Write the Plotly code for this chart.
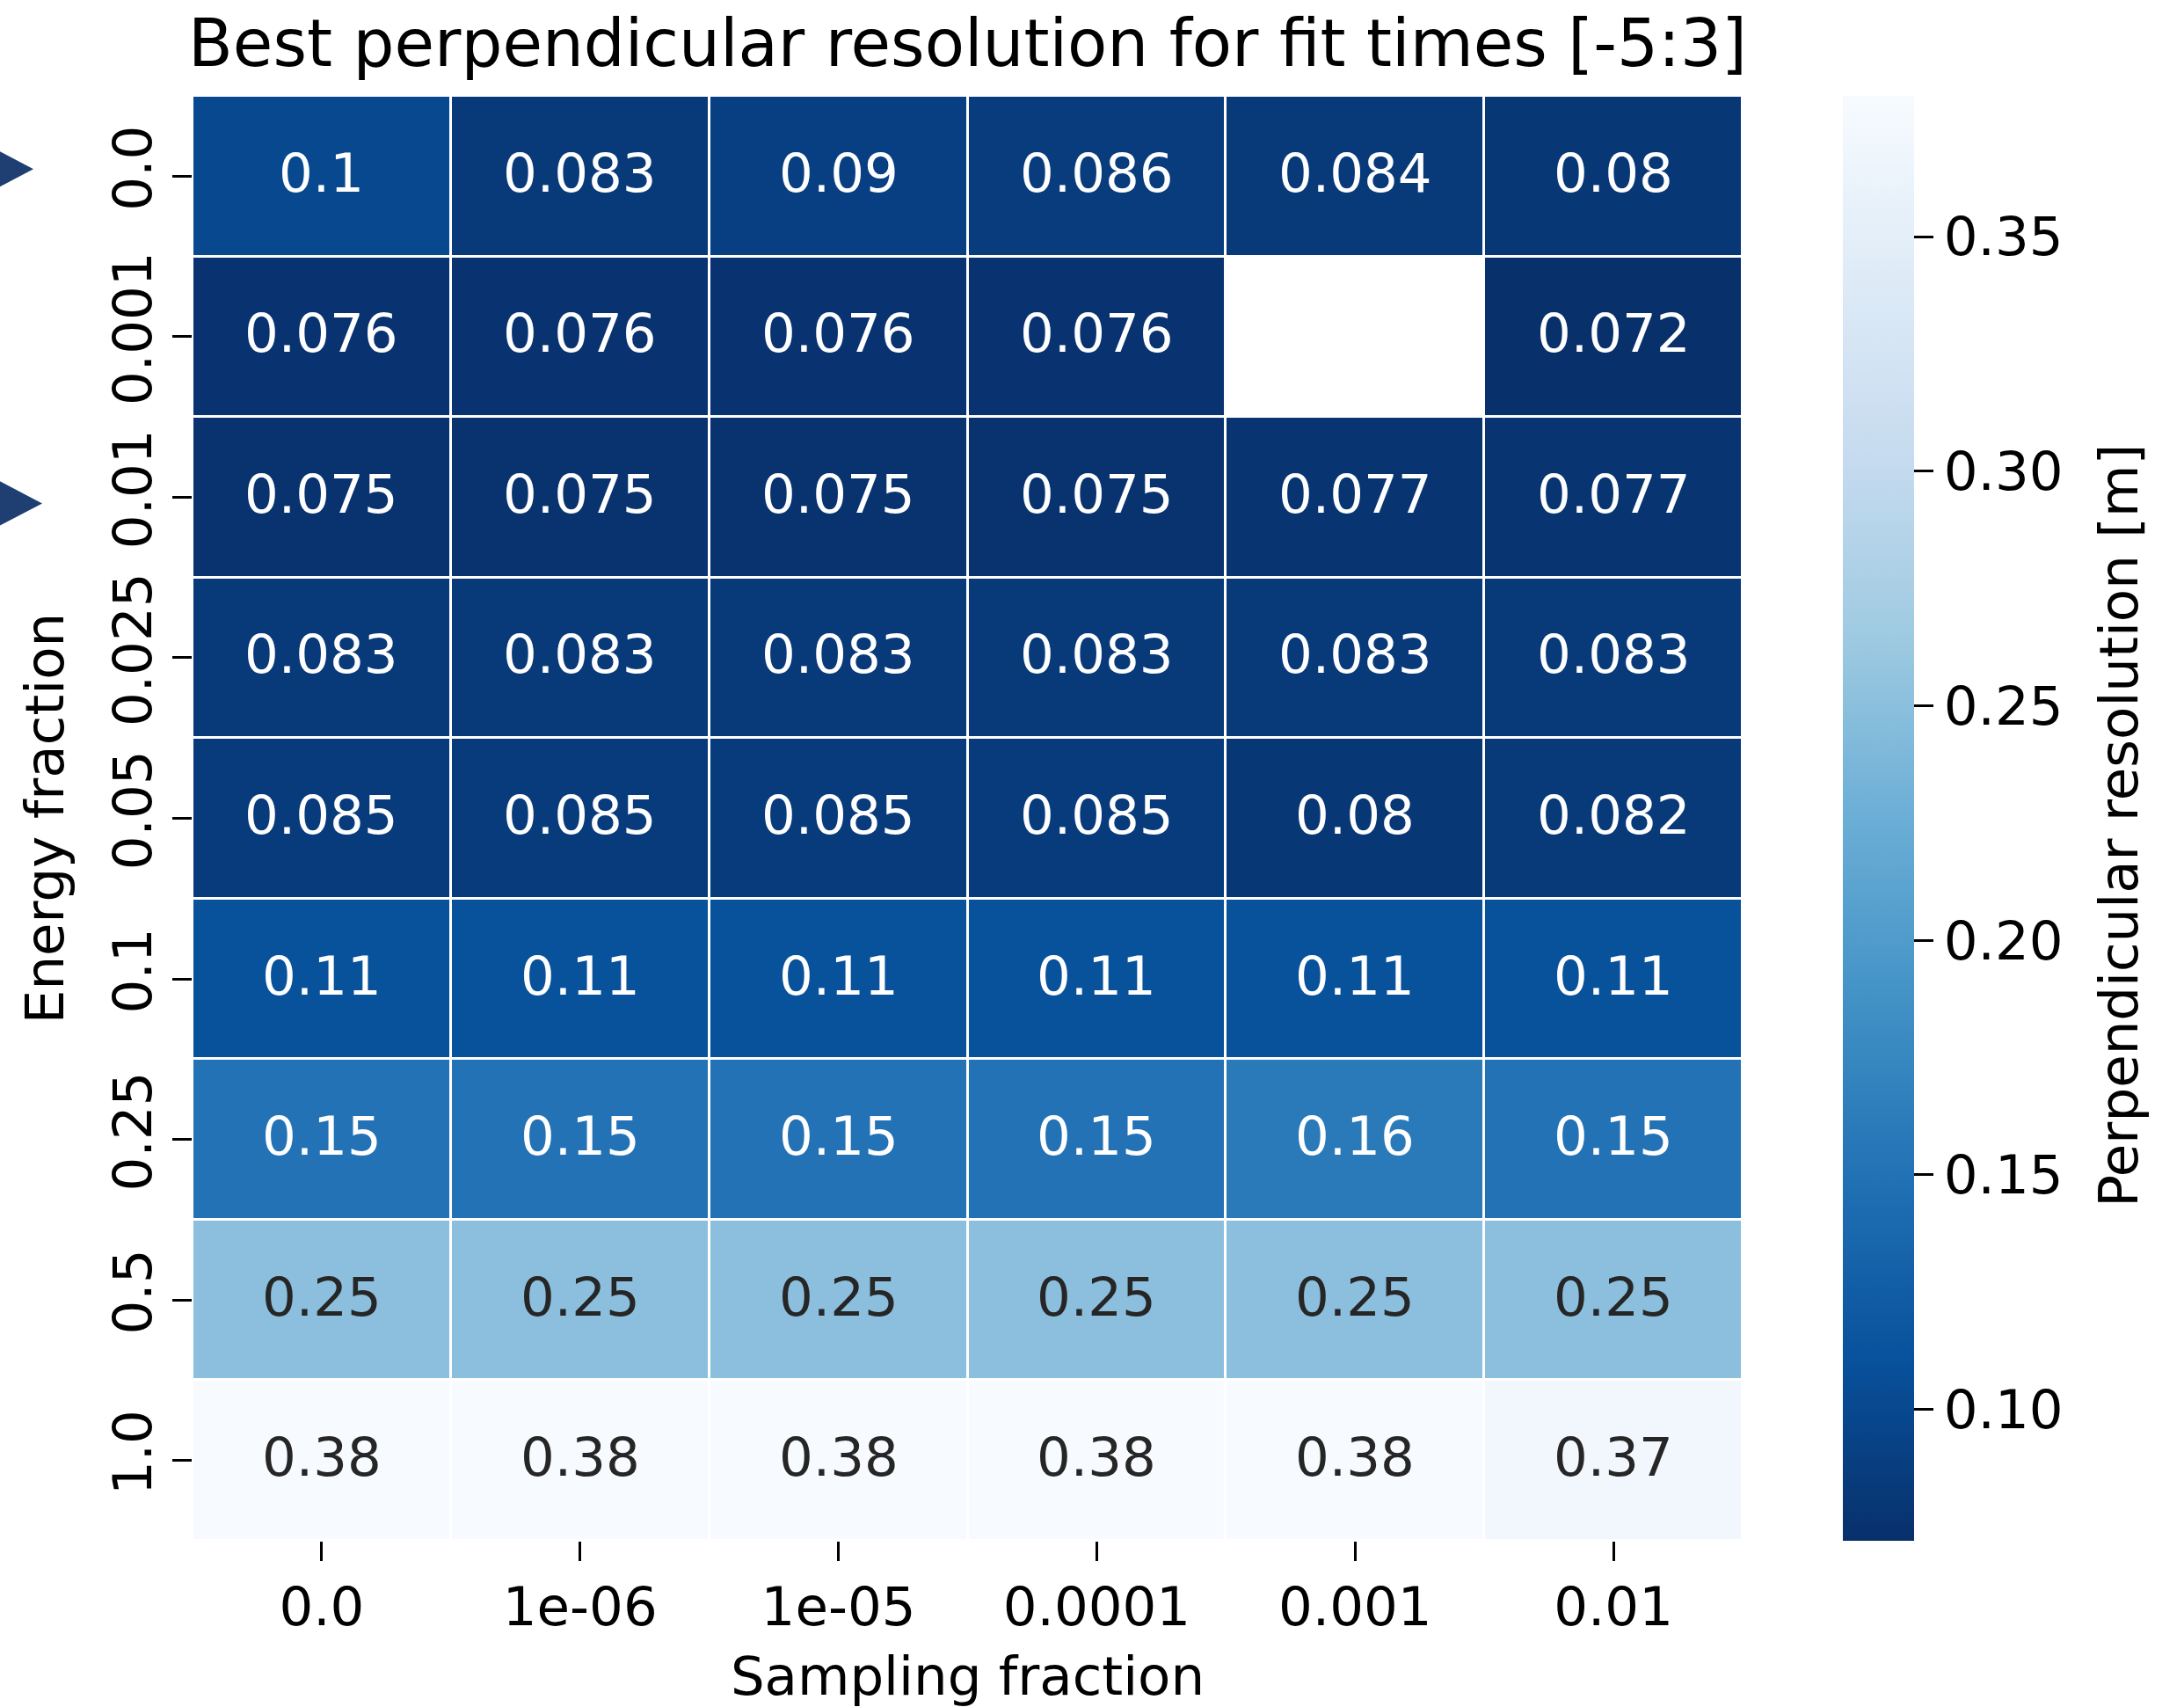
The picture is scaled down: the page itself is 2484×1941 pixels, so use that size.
import plotly.graph_objects as go

sampling_fraction = ["0.0", "1e-06", "1e-05", "0.0001", "0.001", "0.01"]
energy_fraction = ["0.0", "0.001", "0.01", "0.025", "0.05", "0.1", "0.25", "0.5", "1.0"]

res_e0000 = [0.10, 0.083, 0.090, 0.086, 0.084, 0.080]
res_e0001 = [0.076, 0.076, 0.076, 0.076, None, 0.072]
res_e0010 = [0.075, 0.075, 0.075, 0.075, 0.077, 0.077]
res_e0025 = [0.083, 0.083, 0.083, 0.083, 0.083, 0.083]
res_e0050 = [0.085, 0.085, 0.085, 0.085, 0.080, 0.082]
res_e0100 = [0.11, 0.11, 0.11, 0.11, 0.11, 0.11]
res_e0250 = [0.15, 0.15, 0.15, 0.15, 0.16, 0.15]
res_e0500 = [0.25, 0.25, 0.25, 0.25, 0.25, 0.25]
res_e1000 = [0.38, 0.38, 0.38, 0.38, 0.38, 0.37]

z = [res_e0000, res_e0001, res_e0010, res_e0025, res_e0050,
     res_e0100, res_e0250, res_e0500, res_e1000]

marked_rows = ["0.0", "0.01"]

FONT = "DejaVu Sans"
FS = 61

blues_r = ["#08306b", "#08519c", "#2171b5", "#4292c6", "#6baed6",
           "#9ecae1", "#c6dbef", "#deebf7", "#f7fbff"]
colorscale = [[i / (len(blues_r) - 1), c] for i, c in enumerate(blues_r)]

flat = [v for row in z for v in row if v is not None]
zmin, zmax = min(flat), max(flat)

fig = go.Figure()
fig.add_trace(go.Heatmap(
    x=sampling_fraction, y=energy_fraction, z=z,
    zmin=zmin, zmax=zmax, colorscale=colorscale,
    xgap=3, ygap=3, hoverongaps=False,
    colorbar=dict(
        x=1.0647, xanchor="left", xref="paper", xpad=0, ypad=0,
        y=0.5, yanchor="middle", len=1.0, lenmode="fraction",
        thickness=81, thicknessmode="pixels",
        outlinewidth=0,
        ticks="outside", ticklen=22, tickwidth=3, tickcolor="black",
        tick0=0, dtick=0.05, tickformat=".2f",
        tickfont=dict(family=FONT, size=FS, color="black"),
    ),
))

annotations = []
for i, ef in enumerate(energy_fraction):
    for j, sf in enumerate(sampling_fraction):
        v = z[i][j]
        if v is None:
            continue
        annotations.append(dict(
            x=j, y=i, xref="x", yref="y", text=f"{v:.2g}",
            showarrow=False, yshift=4,
            font=dict(family=FONT, size=FS,
                      color="#262626" if v > 0.2 else "white"),
        ))

# colorbar label
annotations.append(dict(
    text="Perpendicular resolution [m]", textangle=-90,
    x=1.2428, xref="paper", xanchor="center",
    y=0.495, yref="paper", yanchor="middle",
    showarrow=False, font=dict(family=FONT, size=FS, color="black"),
))

# left-side marker triangles (pixel-sized, anchored at the plot's left edge)
tri_style = [(-181, 8), (-171, -7)]  # (tip x offset px, vertical offset px)
shapes = []
for r, (tip, dy) in zip(marked_rows, tri_style):
    base = tip - 80
    half = 42
    shapes.append(dict(
        type="path", xref="paper", yref="y",
        xsizemode="pixel", ysizemode="pixel",
        xanchor=0, yanchor=energy_fraction.index(r),
        path=f"M{tip},{dy} L{base},{dy + half} L{base},{dy - half} Z",
        fillcolor="#1f3f73", line=dict(width=0),
    ))

fig.update_layout(
    width=2484, height=1941,
    margin=dict(l=219, r=502, t=109, b=189, autoexpand=False),
    paper_bgcolor="white", plot_bgcolor="white",
    font=dict(family=FONT, size=FS, color="black"),
    title=dict(text="Best perpendicular resolution for fit times [-5:3]",
               x=0.5, xref="paper", xanchor="center",
               y=1, yref="paper", yanchor="bottom", pad=dict(b=34),
               font=dict(family=FONT, size=74, color="black")),
    xaxis=dict(type="category", categoryorder="array",
               categoryarray=sampling_fraction, automargin=False,
               showgrid=False, zeroline=False, showline=False,
               ticks="outside", ticklen=22, tickwidth=3, tickcolor="black",
               tickfont=dict(family=FONT, size=FS),
               title=dict(text="Sampling fraction", standoff=24,
                          font=dict(family=FONT, size=FS))),
    yaxis=dict(type="category", categoryorder="array",
               categoryarray=energy_fraction, autorange="reversed",
               automargin=False,
               showgrid=False, zeroline=False, showline=False,
               ticks="outside", ticklen=22, tickwidth=3, tickcolor="black",
               tickangle=-90,
               tickfont=dict(family=FONT, size=FS),
               title=dict(text="Energy fraction", standoff=22,
                          font=dict(family=FONT, size=FS))),
    annotations=annotations,
    shapes=shapes,
)

fig.write_html("out.html",
               config={"displayModeBar": False},
               post_script="document.body.style.margin='0';document.body.style.overflow='hidden';")
